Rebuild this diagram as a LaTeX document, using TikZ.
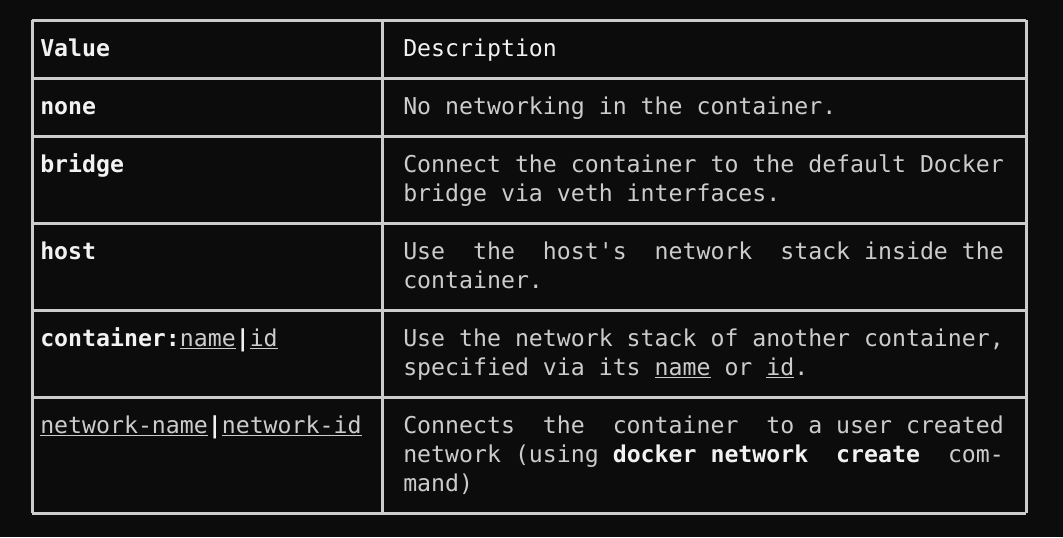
\documentclass[tikz,border=0pt]{standalone}
\usepackage{fontspec}
\setmonofont{DejaVu Sans Mono}
\definecolor{bgcol}{HTML}{0C0C0C}
\definecolor{rulecol}{HTML}{CCCCCC}
\definecolor{headcol}{HTML}{F2F2F2}
\definecolor{desccol}{HTML}{CCCCCC}
\newcommand{\uln}[1]{{\mdseries\color{desccol}\underline{#1}}}
\tikzset{
  txt/.style={anchor=base west,inner sep=0pt,text=desccol,
    font=\ttfamily\fontsize{17.4}{21}\selectfont},
  val/.style={txt,text=headcol,font=\ttfamily\bfseries\fontsize{17.4}{21}\selectfont},
  hd/.style={txt,text=headcol}
}
\begin{document}
\begin{tikzpicture}[x=0.75pt,y=-0.75pt]
		\fill[bgcol] (0,0) rectangle (1063,537);
		\useasboundingbox (0,0) rectangle (1063,537);

		% horizontal rules
		\draw[rulecol,line width=2.25pt] (32,20) -- (1026,20);
		\draw[rulecol,line width=2.25pt] (32,78) -- (1026,78);
		\draw[rulecol,line width=2.25pt] (32,136) -- (1026,136);
		\draw[rulecol,line width=2.25pt] (32,223) -- (1026,223);
		\draw[rulecol,line width=2.25pt] (32,310) -- (1026,310);
		\draw[rulecol,line width=2.25pt] (32,397) -- (1026,397);
		\draw[rulecol,line width=2.25pt] (32,513) -- (1026,513);

		% vertical rules
		\draw[rulecol,line width=2.25pt] (32,20) -- (32,513);
		\draw[rulecol,line width=2.25pt] (382,20) -- (382,513);
		\draw[rulecol,line width=2.25pt] (1026,20) -- (1026,513);

		% header
		\node[val] (hvalue) at (40,56) {Value};
		\node[hd] (hdesc) at (403,56) {Description};

		% values
		\node[val] (vnone) at (40,114) {none};
		\node[val] (vbridge) at (40,172) {bridge};
		\node[val] (vhost) at (40,259) {host};
		\node[val] (vcont) at (40,346) {container:\uln{name}|\uln{id}};
		\node[val] (vnet) at (40,433) {\uln{network-name}|\uln{network-id}};

		% descriptions
		\node[txt] (dnone) at (403,114) {No networking in the container.};
		\node[txt] (dbridgea) at (403,172) {Connect the container to the default Docker};
		\node[txt] (dbridgeb) at (403,201) {bridge via veth interfaces.};
		\node[txt] (dhosta) at (403,259) {Use~~the~~host's~~network~~stack inside the};
		\node[txt] (dhostb) at (403,288) {container.};
		\node[txt] (dconta) at (403,346) {Use the network stack of another container,};
		\node[txt] (dcontb) at (403,375) {specified via its \underline{name} or \underline{id}.};
		\node[txt] (dneta) at (403,433) {Connects~~the~~container~~to a user created};
		\node[txt] (dnetb) at (403,462) {network (using {\bfseries\color{headcol}docker network~~create}~~com-};
		\node[txt] (dnetc) at (403,491) {mand)};
\end{tikzpicture}
\end{document}
